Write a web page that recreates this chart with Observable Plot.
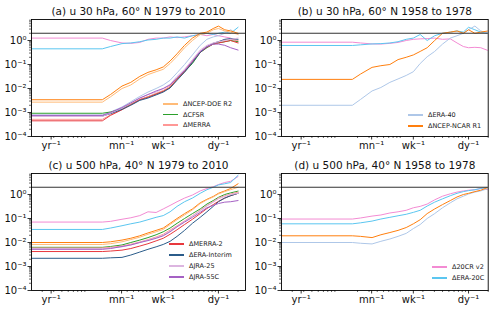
<!DOCTYPE html>
<html><head><meta charset="utf-8">
<script src="https://cdn.jsdelivr.net/npm/d3@7"></script>
<script src="https://cdn.jsdelivr.net/npm/@observablehq/plot@0.6"></script>
<style>
body{margin:0;background:#fff;}
#wrap{position:relative;width:500px;height:310px;font-family:"DejaVu Sans",sans-serif;overflow:hidden;}
.panel{position:absolute;}
.leg{position:absolute;left:0;top:0;font-size:6.5px;color:#222;font-family:"DejaVu Sans",sans-serif;}
.ln{position:absolute;height:1.6px;width:15px;}
.tx{position:absolute;line-height:1;transform:translateY(-50%);white-space:nowrap;}
</style>
</head><body><div id="wrap"></div>
<script>
// periods (days) of the sampled spectral points
const periods = [730, 60, 45, 30, 22, 16, 12, 9, 7, 5.5, 4.3, 3.3, 2.5, 1.9, 1.5, 1.2, 1, 0.8, 0.65, 0.5];
const tickPeriods = [365.25, 30.44, 7, 1];
const tickLabels = ["yr⁻¹", "mn⁻¹", "wk⁻¹", "dy⁻¹"];
const yTickValues = [1e-4, 1e-3, 1e-2, 1e-1, 1];
const yTickLabels = ["10⁻⁴", "10⁻³", "10⁻²", "10⁻¹", "10⁰"];
const threshold = 2;

const seriesNames = ["Δ20CR v2", "ΔERA-20C", "ΔERA-40", "ΔNCEP-NCAR R1", "ΔNCEP-DOE R2", "ΔCFSR", "ΔMERRA", "ΔMERRA-2", "ΔERA-Interim", "ΔJRA-25", "ΔJRA-55C"];
const seriesColors = ["#f38bd3", "#5bc6f0", "#aec7e8", "#ff7f0e", "#ffbb78", "#2ca02c", "#ff9896", "#e8383d", "#2b5c8a", "#dcb5e0", "#a561c4"];

const titles = ["(a) u 30 hPa, 60° N 1979 to 2010", "(b) u 30 hPa, 60° N 1958 to 1978",
                "(c) u 500 hPa, 40° N 1979 to 2010", "(d) u 500 hPa, 40° N 1958 to 1978"];

// ---- panel (a)
const a_20CR   = [1.26, 1.26, 1.0, 0.79, 0.76, 0.83, 1.12, 1.26, 1.26, 1.41, 1.32, 1.41, 1.58, 1.78, 1.58, 1.78, 1.58, 1.41, 1.26, 0.89];
const a_ERA20C = [0.45, 0.45, 0.56, 0.74, 0.79, 0.89, 1.05, 1.12, 1.26, 1.26, 1.41, 1.26, 1.58, 1.78, 2.0, 1.78, 2.0, 2.24, 2.0, 3.55];
const a_ERA40  = [7.9e-4, 7.9e-4, 1.05e-3, 1.7e-3, 2.8e-3, 4.7e-3, 7.1e-3, 1.0e-2, 1.4e-2, 2.2e-2, 4.5e-2, 0.1, 0.25, 0.63, 1.12, 1.41, 1.58, 2.0, 2.8, 1.78];
const a_R1     = [3.4e-3, 3.4e-3, 5.6e-3, 1.26e-2, 1.8e-2, 3.2e-2, 4.7e-2, 6.0e-2, 7.9e-2, 0.14, 0.28, 0.63, 1.26, 2.0, 2.24, 3.16, 3.98, 2.8, 2.5, 2.0];
const a_R2     = [2.7e-3, 2.7e-3, 4.5e-3, 1.0e-2, 1.4e-2, 2.5e-2, 3.8e-2, 5.0e-2, 6.3e-2, 0.11, 0.22, 0.5, 1.0, 1.78, 2.0, 2.8, 3.16, 2.5, 2.24, 1.78];
const a_CFSR   = [9.3e-4, 9.3e-4, 1.05e-3, 1.4e-3, 2.2e-3, 3.4e-3, 4.5e-3, 6.0e-3, 7.6e-3, 1.1e-2, 2.5e-2, 5.0e-2, 0.11, 0.32, 0.5, 0.71, 0.79, 0.89, 1.0, 0.89];
const a_MERRA  = [5.2e-4, 5.2e-4, 7.9e-4, 1.35e-3, 2.2e-3, 3.5e-3, 4.6e-3, 6.3e-3, 8.3e-3, 1.26e-2, 2.6e-2, 5.6e-2, 0.13, 0.35, 0.56, 0.76, 0.89, 1.05, 1.12, 1.0];
const a_MERRA2 = [4.5e-4, 4.5e-4, 7.6e-4, 1.3e-3, 2.1e-3, 3.4e-3, 4.3e-3, 5.8e-3, 7.6e-3, 1.1e-2, 2.4e-2, 5.0e-2, 0.13, 0.32, 0.52, 0.71, 0.79, 0.89, 1.0, 0.79];
const a_ERAI   = [7.1e-4, 7.1e-4, 8.9e-4, 1.35e-3, 2.0e-3, 3.2e-3, 4.0e-3, 5.4e-3, 7.1e-3, 1.05e-2, 2.2e-2, 4.8e-2, 0.12, 0.32, 0.54, 0.76, 0.89, 1.12, 1.2, 1.12];
const a_JRA25  = [6.8e-4, 6.8e-4, 9.5e-4, 1.5e-3, 2.5e-3, 4.0e-3, 5.6e-3, 7.1e-3, 1.0e-2, 1.5e-2, 3.2e-2, 6.3e-2, 0.16, 0.4, 0.63, 0.79, 0.89, 1.0, 1.12, 1.26];
const a_JRA55C = [7.6e-4, 7.6e-4, 1.0e-3, 1.6e-3, 2.5e-3, 4.0e-3, 5.6e-3, 7.9e-3, 1.0e-2, 1.4e-2, 2.8e-2, 5.6e-2, 0.14, 0.35, 0.56, 0.71, 0.71, 0.63, 0.5, 0.4];

// ---- panel (b)
const b_20CR   = [0.85, 0.85, 0.79, 0.72, 0.71, 0.76, 0.83, 1.0, 1.12, 1.17, 1.2, 1.26, 1.12, 1.17, 0.79, 0.56, 0.5, 0.52, 0.5, 0.38];
const b_ERA20C = [0.62, 0.62, 0.66, 0.72, 0.74, 0.79, 0.89, 1.12, 1.26, 1.78, 1.0, 1.58, 2.0, 2.24, 2.5, 2.24, 3.55, 2.8, 2.24, 2.0];
const b_R1     = [0.024, 0.024, 0.04, 0.076, 0.089, 0.1, 0.16, 0.2, 0.25, 0.35, 0.5, 1.0, 2.0, 2.24, 2.5, 2.0, 2.8, 2.0, 2.24, 2.5];
const b_ERA40  = [2.0e-3, 2.0e-3, 3.5e-3, 7.9e-3, 1.1e-2, 1.8e-2, 2.5e-2, 3.5e-2, 5.0e-2, 0.11, 0.21, 0.35, 0.71, 1.26, 1.58, 2.0, 2.8, 4.0, 2.5, 2.0];

// ---- panel (c)
const c_20CR   = [0.071, 0.071, 0.076, 0.093, 0.107, 0.132, 0.19, 0.178, 0.25, 0.35, 0.5, 0.71, 0.95, 1.41, 1.78, 2.1, 2.6, 3.16, 3.55, 5.6];
const c_ERA20C = [0.035, 0.035, 0.04, 0.05, 0.06, 0.071, 0.089, 0.112, 0.132, 0.19, 0.32, 0.5, 0.71, 1.12, 1.58, 2.0, 2.5, 2.8, 3.16, 6.3];
const c_R1     = [0.01, 0.01, 0.0107, 0.0126, 0.015, 0.019, 0.025, 0.032, 0.04, 0.063, 0.1, 0.16, 0.25, 0.45, 0.63, 0.83, 1.12, 1.41, 1.78, 2.8];
const c_R2     = [0.0083, 0.0083, 0.0089, 0.0107, 0.0132, 0.0166, 0.022, 0.028, 0.035, 0.056, 0.089, 0.14, 0.23, 0.42, 0.6, 0.79, 1.05, 1.32, 1.58, 2.0];
const c_CFSR   = [0.0063, 0.0063, 0.0068, 0.0079, 0.01, 0.0126, 0.016, 0.021, 0.028, 0.04, 0.063, 0.1, 0.16, 0.25, 0.4, 0.56, 0.76, 1.0, 1.17, 1.38];
const c_MERRA  = [0.0059, 0.0059, 0.0063, 0.0071, 0.0085, 0.0105, 0.0132, 0.017, 0.022, 0.033, 0.05, 0.079, 0.13, 0.22, 0.35, 0.5, 0.71, 0.89, 1.05, 1.26];
const c_MERRA2 = [0.0042, 0.0042, 0.0044, 0.0048, 0.0056, 0.0071, 0.0089, 0.0117, 0.015, 0.022, 0.034, 0.056, 0.093, 0.16, 0.26, 0.38, 0.52, 0.71, 0.89, 1.12];
const c_ERAI   = [0.0022, 0.0022, 0.0023, 0.0024, 0.003, 0.004, 0.0052, 0.0066, 0.0083, 0.0112, 0.018, 0.032, 0.063, 0.112, 0.19, 0.32, 0.5, 0.71, 0.89, 1.12];
const c_JRA25  = [0.0055, 0.0055, 0.0059, 0.0066, 0.0079, 0.01, 0.0126, 0.016, 0.02, 0.03, 0.047, 0.076, 0.126, 0.21, 0.33, 0.48, 0.66, 0.83, 1.0, 1.12];
const c_JRA55C = [0.0052, 0.0052, 0.0056, 0.0068, 0.0079, 0.01, 0.012, 0.015, 0.019, 0.028, 0.045, 0.071, 0.112, 0.18, 0.28, 0.35, 0.42, 0.48, 0.5, 0.56];

// ---- panel (d)
const d_20CR   = [0.095, 0.095, 0.105, 0.126, 0.14, 0.17, 0.19, 0.22, 0.28, 0.32, 0.4, 0.6, 0.85, 1.07, 1.26, 1.41, 1.51, 1.58, 1.78, 1.58];
const d_ERA20C = [0.06, 0.06, 0.066, 0.078, 0.095, 0.112, 0.13, 0.15, 0.18, 0.22, 0.33, 0.48, 0.66, 0.89, 1.12, 1.32, 1.45, 1.58, 1.78, 2.0];
const d_R1     = [0.019, 0.019, 0.018, 0.016, 0.021, 0.026, 0.032, 0.042, 0.06, 0.089, 0.16, 0.25, 0.38, 0.56, 0.79, 1.0, 1.12, 1.32, 1.51, 2.0];
const d_ERA40  = [0.01, 0.01, 0.0093, 0.0087, 0.0112, 0.014, 0.018, 0.024, 0.038, 0.056, 0.1, 0.16, 0.28, 0.45, 0.66, 0.85, 1.05, 1.26, 1.41, 1.78];

const panels = [
  {title: titles[0], left: 0, top: 0, mt: 19, mb: 19, mr: 5, xmax: 2.6,
   series: [["Δ20CR v2", a_20CR], ["ΔERA-20C", a_ERA20C], ["ΔERA-40", a_ERA40], ["ΔNCEP-NCAR R1", a_R1], ["ΔNCEP-DOE R2", a_R2],
            ["ΔCFSR", a_CFSR], ["ΔMERRA", a_MERRA], ["ΔMERRA-2", a_MERRA2], ["ΔERA-Interim", a_ERAI], ["ΔJRA-25", a_JRA25], ["ΔJRA-55C", a_JRA55C]],
   legend: {names: ["ΔNCEP-DOE R2", "ΔCFSR", "ΔMERRA"], x: 163, ys: [104, 114.5, 125]}},
  {title: titles[1], left: 250, top: 0, mt: 19, mb: 19, mr: 12.3, xmax: 2,
   series: [["Δ20CR v2", b_20CR], ["ΔERA-20C", b_ERA20C], ["ΔERA-40", b_ERA40], ["ΔNCEP-NCAR R1", b_R1]],
   legend: {names: ["ΔERA-40", "ΔNCEP-NCAR R1"], x: 408, ys: [115, 126]}},
  {title: titles[2], left: 0, top: 155, mt: 18, mb: 20, mr: 5, xmax: 2.6,
   series: [["Δ20CR v2", c_20CR], ["ΔERA-20C", c_ERA20C], ["ΔNCEP-NCAR R1", c_R1], ["ΔNCEP-DOE R2", c_R2],
            ["ΔCFSR", c_CFSR], ["ΔMERRA", c_MERRA], ["ΔMERRA-2", c_MERRA2], ["ΔERA-Interim", c_ERAI], ["ΔJRA-25", c_JRA25], ["ΔJRA-55C", c_JRA55C]],
   legend: {names: ["ΔMERRA-2", "ΔERA-Interim", "ΔJRA-25", "ΔJRA-55C"], x: 169, ys: [244, 255, 266, 277]}},
  {title: titles[3], left: 250, top: 155, mt: 18, mb: 20, mr: 12.3, xmax: 2,
   series: [["Δ20CR v2", d_20CR], ["ΔERA-20C", d_ERA20C], ["ΔERA-40", d_ERA40], ["ΔNCEP-NCAR R1", d_R1]],
   legend: {names: ["Δ20CR v2", "ΔERA-20C"], x: 432, ys: [267, 278]}}
];

const wrap = document.getElementById("wrap");
const xMinor = [1e-3, 1e-2, 1e-1, 1].flatMap(b => [2, 3, 4, 5, 6, 7, 8, 9].map(k => k * b));
const yMinor = [1e-4, 1e-3, 1e-2, 1e-1, 1].flatMap(b => [2, 3, 4, 5, 6, 7, 8, 9].map(k => k * b)).filter(v => v < 7.5);
const xTicks = tickPeriods.map((p, i) => ({f: 1 / p, label: tickLabels[i]}));
const yTicks = yTickValues.map((v, i) => ({v, label: yTickLabels[i]}));
const order = seriesNames;

for (const p of panels) {
  const rows = [];
  const sorted = p.series.slice().sort((a, b) => order.indexOf(a[0]) - order.indexOf(b[0]));
  for (const [name, vals] of sorted) vals.forEach((v, i) => rows.push({name, f: 1 / periods[i], v}));
  const chart = Plot.plot({
    width: 250, height: 155,
    marginLeft: 31, marginRight: p.mr, marginTop: p.mt, marginBottom: p.mb,
    style: {fontFamily: "DejaVu Sans, sans-serif", fontSize: "10px", background: "transparent", color: "#000", overflow: "visible"},
    x: {type: "log", domain: [1 / 730, p.xmax], label: null},
    y: {type: "log", domain: [1e-4, 7.5], label: null},
    color: {domain: seriesNames, range: seriesColors},
    marks: [
      Plot.line(rows, {x: "f", y: "v", z: "name", stroke: "name", strokeWidth: 1, clip: true}),
      Plot.ruleY([threshold], {stroke: "#333", strokeWidth: 1.1}),
      Plot.tickX(xMinor.filter(v => v <= p.xmax), {x: d => d, frameAnchor: "bottom", y: null}),
      Plot.axisX(xMinor.filter(v => v <= p.xmax), {tickSize: 2, tickFormat: () => "", strokeWidth: 0.6}),
      Plot.axisX(xTicks.map(d => d.f), {tickSize: 3.5, tickFormat: () => "", strokeWidth: 0.8}),
      Plot.text(xTicks, {x: "f", text: "label", frameAnchor: "bottom", lineAnchor: "top", dy: 5.5, fontSize: 10, fill: "#111"}),
      Plot.axisY(yMinor, {tickSize: 2, tickFormat: () => "", strokeWidth: 0.6}),
      Plot.axisY(yTicks.map(d => d.v), {tickSize: 3.5, tickFormat: () => "", strokeWidth: 0.8}),
      Plot.text(yTicks, {y: "v", text: "label", frameAnchor: "left", textAnchor: "end", dx: -5, fontSize: 10, fill: "#111"}),
      Plot.frame({stroke: "#000", strokeWidth: 0.9}),
      Plot.text([p.title], {frameAnchor: "top", dy: -5, lineAnchor: "bottom", fontSize: 10.5, fill: "#111"})
    ].filter((m, i) => i !== 2)
  });
  chart.classList.add("panel");
  chart.style.left = p.left + "px";
  chart.style.top = p.top + "px";
  wrap.appendChild(chart);

  const leg = document.createElement("div");
  leg.className = "leg";
  p.legend.names.forEach((n, i) => {
    const ln = document.createElement("div");
    ln.className = "ln";
    ln.style.left = p.legend.x + "px";
    ln.style.top = (p.legend.ys[i] - 0.8) + "px";
    ln.style.background = seriesColors[seriesNames.indexOf(n)];
    const tx = document.createElement("div");
    tx.className = "tx";
    tx.style.left = (p.legend.x + 20) + "px";
    tx.style.top = p.legend.ys[i] + "px";
    tx.textContent = n;
    leg.appendChild(ln); leg.appendChild(tx);
  });
  wrap.appendChild(leg);
}
</script>
</body></html>
